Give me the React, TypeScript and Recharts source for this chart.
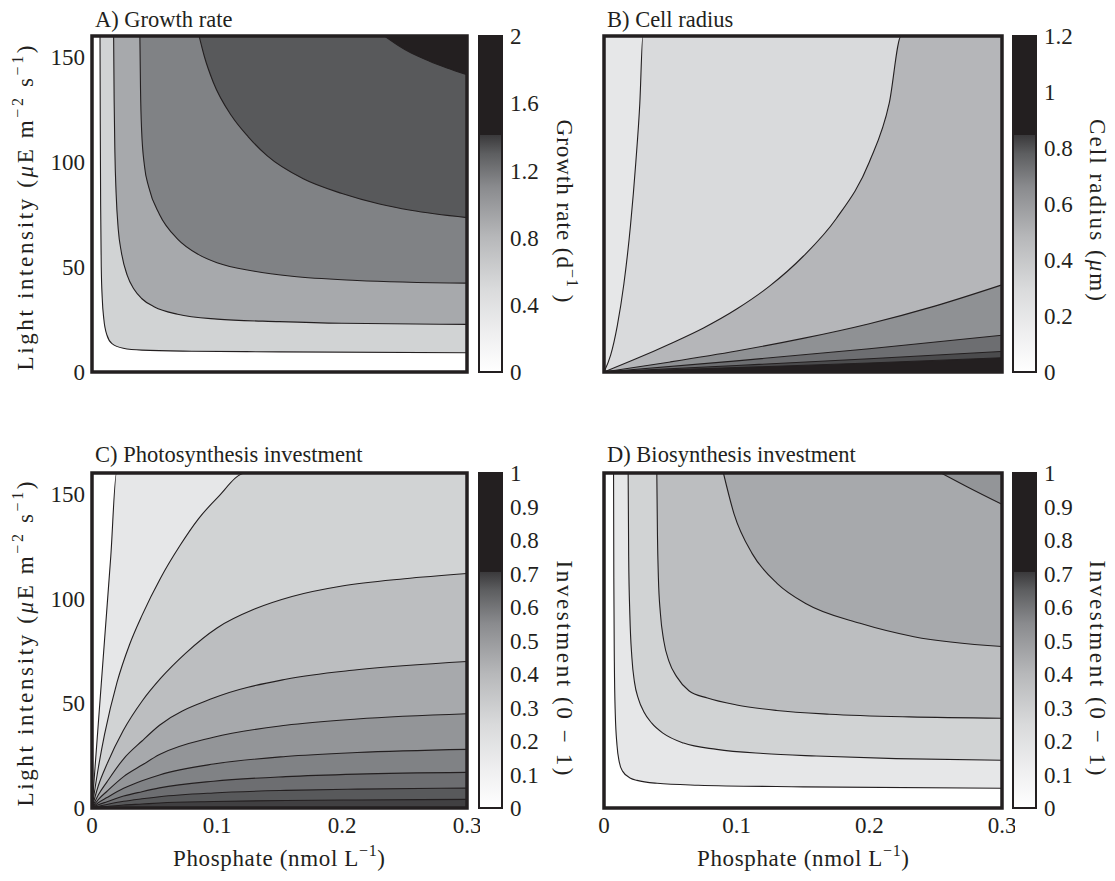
import React from 'react';
import {
  ComposedChart,
  BarChart,
  Area,
  Line,
  Bar,
  XAxis,
  YAxis,
  ReferenceArea,
  CartesianGrid,
} from 'recharts';

const INK = '#231f20';
const FONT = '"Liberation Serif", "Times New Roman", Times, serif';

// ---------- axes ----------
const phosphateDomain = [0, 0.3];
const lightDomain = [0, 160];
const phosphateTicks = [0, 0.1, 0.2, 0.3];
const phosphateMinorTicks = [0.1, 0.2];
const lightTicks = [0, 50, 100, 150];
const lightMinorTicks = [50, 100, 150];

// ---------- A) Growth rate contours (x = phosphate, y = light) ----------
const growthContour1 = [
  { x: 0.0064, y: 160 }, { x: 0.0066, y: 120 }, { x: 0.0069, y: 80 }, { x: 0.0074, y: 50 },
  { x: 0.0082, y: 35 }, { x: 0.0095, y: 25 }, { x: 0.012, y: 17.5 }, { x: 0.016, y: 13.5 },
  { x: 0.025, y: 11.3 }, { x: 0.04, y: 10.4 }, { x: 0.08, y: 9.9 }, { x: 0.15, y: 9.6 }, { x: 0.3, y: 9.2 },
];
const growthContour2 = [
  { x: 0.0173, y: 160 }, { x: 0.0177, y: 130 }, { x: 0.0183, y: 105 }, { x: 0.0193, y: 85 },
  { x: 0.021, y: 68 }, { x: 0.0235, y: 57 }, { x: 0.0282, y: 46 }, { x: 0.0335, y: 39.5 },
  { x: 0.0397, y: 35 }, { x: 0.05, y: 31 }, { x: 0.0685, y: 27.5 }, { x: 0.1, y: 25.2 },
  { x: 0.15, y: 24 }, { x: 0.2, y: 23.2 }, { x: 0.3, y: 22.7 },
];
const growthContour3 = [
  { x: 0.0383, y: 160 }, { x: 0.0388, y: 135 }, { x: 0.0397, y: 115 }, { x: 0.042, y: 98 },
  { x: 0.0454, y: 88 }, { x: 0.054, y: 75 }, { x: 0.0685, y: 63.3 }, { x: 0.085, y: 56 },
  { x: 0.1, y: 52 }, { x: 0.13, y: 48 }, { x: 0.16, y: 45.6 }, { x: 0.212, y: 43.6 }, { x: 0.3, y: 42.3 },
];
const growthContour4 = [
  { x: 0.0857, y: 160 }, { x: 0.09, y: 150 }, { x: 0.097, y: 138 }, { x: 0.1116, y: 122 },
  { x: 0.125, y: 112 }, { x: 0.14, y: 103 }, { x: 0.169, y: 92 }, { x: 0.2, y: 85 },
  { x: 0.23, y: 80 }, { x: 0.255, y: 77 }, { x: 0.3, y: 73.5 },
];
const growthContour5 = [
  { x: 0.234, y: 160 }, { x: 0.245, y: 155.5 }, { x: 0.255, y: 152 }, { x: 0.27, y: 148 },
  { x: 0.284, y: 144.8 }, { x: 0.3, y: 141.5 },
];

// ---------- B) Cell radius contours ----------
const radiusContour1 = [
  { x: 0, y: 0 }, { x: 0.005, y: 8 }, { x: 0.01, y: 22 }, { x: 0.015, y: 42 }, { x: 0.02, y: 70 },
  { x: 0.024, y: 100 }, { x: 0.027, y: 128 }, { x: 0.0293, y: 160 }, { x: 0.3, y: 160 },
];
const radiusContour2 = [
  { x: 0, y: 0 }, { x: 0.025, y: 6.5 }, { x: 0.05, y: 13.5 }, { x: 0.075, y: 21 }, { x: 0.1, y: 30 },
  { x: 0.125, y: 41 }, { x: 0.15, y: 55 }, { x: 0.175, y: 73 }, { x: 0.2, y: 100 }, { x: 0.215, y: 128 },
  { x: 0.224, y: 160 }, { x: 0.3, y: 160 },
];
const radiusContour3 = [
  { x: 0, y: 0 }, { x: 0.05, y: 4.8 }, { x: 0.1, y: 10 }, { x: 0.15, y: 16 }, { x: 0.2, y: 23 },
  { x: 0.25, y: 31.5 }, { x: 0.3, y: 41.5 },
];
const radiusContour4 = [{ x: 0, y: 0 }, { x: 0.1, y: 5.3 }, { x: 0.2, y: 11.1 }, { x: 0.3, y: 17.5 }];
const radiusContour5 = [{ x: 0, y: 0 }, { x: 0.1, y: 3.1 }, { x: 0.2, y: 6.3 }, { x: 0.3, y: 9.8 }];
const radiusContour6 = [{ x: 0, y: 0 }, { x: 0.1, y: 2.1 }, { x: 0.2, y: 4.3 }, { x: 0.3, y: 6.8 }];

// ---------- C) Photosynthesis investment contours ----------
const photoContour1 = [
  { x: 0, y: 0 }, { x: 0.005, y: 40 }, { x: 0.01, y: 80 }, { x: 0.015, y: 120 }, { x: 0.0196, y: 160 }, { x: 0.3, y: 160 },
];
const photoContour2 = [
  { x: 0, y: 0 }, { x: 0.005, y: 19 }, { x: 0.01, y: 35 }, { x: 0.02, y: 60 }, { x: 0.03, y: 78 },
  { x: 0.04, y: 92 }, { x: 0.055, y: 110 }, { x: 0.07, y: 125 }, { x: 0.085, y: 138 }, { x: 0.1, y: 148 },
  { x: 0.123, y: 160 }, { x: 0.3, y: 160 },
];
const photoContour3 = [
  { x: 0, y: 0 }, { x: 0.005, y: 10.5 }, { x: 0.012, y: 21 }, { x: 0.025, y: 37 }, { x: 0.04, y: 51 },
  { x: 0.055, y: 62 }, { x: 0.075, y: 74 }, { x: 0.1, y: 86 }, { x: 0.13, y: 95 }, { x: 0.16, y: 101 },
  { x: 0.2, y: 106 }, { x: 0.25, y: 109.5 }, { x: 0.3, y: 112 },
];
const photoContour4 = [
  { x: 0, y: 0 }, { x: 0.005, y: 6.2 }, { x: 0.012, y: 12.5 }, { x: 0.0253, y: 23.5 }, { x: 0.04, y: 32 },
  { x: 0.054, y: 39.5 }, { x: 0.0972, y: 52.5 }, { x: 0.155, y: 61.5 }, { x: 0.212, y: 66 }, { x: 0.3, y: 70 },
];
const photoContour5 = [
  { x: 0, y: 0 }, { x: 0.005, y: 4 }, { x: 0.012, y: 8 }, { x: 0.0253, y: 15 }, { x: 0.04, y: 20.5 },
  { x: 0.054, y: 25.5 }, { x: 0.0972, y: 33.8 }, { x: 0.155, y: 39.5 }, { x: 0.212, y: 42.5 }, { x: 0.3, y: 45 },
];
const photoContour6 = [
  { x: 0, y: 0 }, { x: 0.005, y: 2.5 }, { x: 0.012, y: 5 }, { x: 0.0253, y: 9.4 }, { x: 0.04, y: 13 },
  { x: 0.054, y: 15.8 }, { x: 0.0972, y: 21 }, { x: 0.155, y: 24.6 }, { x: 0.212, y: 26.5 }, { x: 0.3, y: 28 },
];
const photoContour7 = [
  { x: 0, y: 0 }, { x: 0.005, y: 1.5 }, { x: 0.012, y: 3 }, { x: 0.0253, y: 5.7 }, { x: 0.04, y: 7.8 },
  { x: 0.054, y: 9.6 }, { x: 0.0972, y: 12.8 }, { x: 0.155, y: 15 }, { x: 0.212, y: 16.2 }, { x: 0.3, y: 17 },
];
const photoContour8 = [
  { x: 0, y: 0 }, { x: 0.005, y: 0.85 }, { x: 0.012, y: 1.7 }, { x: 0.0253, y: 3.2 }, { x: 0.04, y: 4.4 },
  { x: 0.054, y: 5.4 }, { x: 0.0972, y: 7.2 }, { x: 0.155, y: 8.4 }, { x: 0.212, y: 9 }, { x: 0.3, y: 9.5 },
];
const photoContour9 = [
  { x: 0, y: 0 }, { x: 0.005, y: 0.4 }, { x: 0.012, y: 0.75 }, { x: 0.0253, y: 1.4 }, { x: 0.04, y: 1.9 },
  { x: 0.054, y: 2.4 }, { x: 0.0972, y: 3.1 }, { x: 0.155, y: 3.6 }, { x: 0.212, y: 3.85 }, { x: 0.3, y: 4.1 },
];

// ---------- D) Biosynthesis investment contours ----------
const bioContour1 = [
  { x: 0.0072, y: 160 }, { x: 0.0074, y: 110 }, { x: 0.0078, y: 70 }, { x: 0.0085, y: 45 },
  { x: 0.0098, y: 30 }, { x: 0.0115, y: 22 }, { x: 0.0141, y: 17.5 }, { x: 0.02, y: 14.2 },
  { x: 0.0249, y: 13.2 }, { x: 0.04, y: 11.8 }, { x: 0.071, y: 10.9 }, { x: 0.15, y: 10.1 }, { x: 0.3, y: 9.4 },
];
const bioContour2 = [
  { x: 0.0182, y: 160 }, { x: 0.0186, y: 120 }, { x: 0.0195, y: 92 }, { x: 0.021, y: 72 },
  { x: 0.023, y: 60 }, { x: 0.026, y: 52 }, { x: 0.03, y: 46 }, { x: 0.036, y: 40.5 },
  { x: 0.045, y: 35.5 }, { x: 0.06, y: 31 }, { x: 0.085, y: 28 }, { x: 0.12, y: 26 },
  { x: 0.16, y: 24.8 }, { x: 0.22, y: 23.6 }, { x: 0.3, y: 22.8 },
];
const bioContour3 = [
  { x: 0.0398, y: 160 }, { x: 0.0403, y: 130 }, { x: 0.041, y: 110 }, { x: 0.0425, y: 93 },
  { x: 0.045, y: 80 }, { x: 0.049, y: 70 }, { x: 0.055, y: 62.5 }, { x: 0.064, y: 56 },
  { x: 0.078, y: 52.5 }, { x: 0.1, y: 49.2 }, { x: 0.13, y: 46.6 }, { x: 0.17, y: 44.8 },
  { x: 0.23, y: 43.5 }, { x: 0.3, y: 42.9 },
];
const bioContour4 = [
  { x: 0.09, y: 160 }, { x: 0.098, y: 140.5 }, { x: 0.1117, y: 121.5 }, { x: 0.1306, y: 107.2 },
  { x: 0.152, y: 97.7 }, { x: 0.193, y: 88.2 }, { x: 0.2336, y: 81.8 }, { x: 0.3, y: 77.1 },
];
const bioContour5 = [{ x: 0.254, y: 160 }, { x: 0.274, y: 153.3 }, { x: 0.3, y: 145 }];

// ---------- colour bars ----------
const growthScale = [{ name: 'growth', value: 2 }];
const growthScaleTicks = [0, 0.4, 0.8, 1.2, 1.6, 2];
const radiusScale = [{ name: 'radius', value: 1.2 }];
const radiusScaleTicks = [0, 0.2, 0.4, 0.6, 0.8, 1, 1.2];
const investScale = [{ name: 'invest', value: 1 }];
const investScaleTicks = [0, 0.1, 0.2, 0.3, 0.4, 0.5, 0.6, 0.7, 0.8, 0.9, 1];

// ---------- styles ----------
const fillsA = ['#d1d3d4', '#a7a9ac', '#808285', '#58595b', '#231f20'];
const fillsB = ['#d9dadc', '#b5b6b9', '#8f9194', '#6d6e71', '#4b4b4d', '#231f20'];
const fillsC = ['#e6e7e8', '#d1d3d4', '#bcbec0', '#a7a9ac', '#939598', '#808285', '#6d6e71', '#58595b', '#414042'];
const fillsD = ['#e6e7e8', '#d1d3d4', '#bcbec0', '#a7a9ac', '#939598'];
const colormapStops = [
  { offset: 0, color: '#ffffff' },
  { offset: 0.12, color: '#eeeeef' },
  { offset: 0.25, color: '#d9dadb' },
  { offset: 0.4, color: '#b7b8ba' },
  { offset: 0.55, color: '#8a8b8e' },
  { offset: 0.65, color: '#5d5e60' },
  { offset: 0.705, color: '#3a393b' },
  { offset: 0.706, color: INK },
  { offset: 1, color: INK },
];

type Pt = { x: number; y: number };
type Box = { left: number; top: number; width: number; height: number };
type Plot = { left: number; top: number; right: number; bottom: number };

const tickText = { fontFamily: FONT, fontSize: 23, fill: INK };
const tickMark = { stroke: INK, strokeWidth: 2.5 };

function marginFor(box: Box, plot: Plot, leftAxis: number, bottomAxis: number, rightAxis: number) {
  return {
    left: plot.left - box.left - leftAxis,
    top: plot.top - box.top,
    right: box.left + box.width - plot.right - rightAxis,
    bottom: box.top + box.height - plot.bottom - bottomAxis,
  };
}

function ContourPanel(props: {
  box: Box;
  plot: Plot;
  contours: Pt[][];
  fills: string[];
  mode: 'above' | 'below';
  background?: string;
  xLabels: boolean;
  yLabels: boolean;
}) {
  const { box, plot, contours, fills, mode, background, xLabels, yLabels } = props;
  const yW = yLabels ? 60 : 0;
  const xH = xLabels ? 40 : 0;
  const margin = marginFor(box, plot, yW, xH, 0);
  const lo = lightDomain[0];
  const hi = lightDomain[1];
  const range = mode === 'above' ? (d: Pt) => [d.y, hi] : (d: Pt) => [lo, d.y];
  return (
    <div style={{ position: 'absolute', left: box.left, top: box.top }}>
      <ComposedChart width={box.width} height={box.height} margin={margin}>
        <XAxis
          xAxisId="x"
          dataKey="x"
          type="number"
          domain={phosphateDomain}
          ticks={phosphateTicks}
          interval={0}
          hide={!xLabels}
          height={xH || 30}
          tickLine={false}
          axisLine={false}
          tick={tickText}
          tickSize={6}
          tickMargin={3}
        />
        <YAxis
          yAxisId="y"
          type="number"
          domain={lightDomain}
          ticks={lightTicks}
          interval={0}
          hide={!yLabels}
          width={yW || 60}
          tickLine={false}
          axisLine={false}
          tick={tickText}
          tickSize={5}
          tickMargin={2}
        />
        {background ? (
          <CartesianGrid
            xAxisId="x"
            yAxisId="y"
            horizontal={false}
            vertical={false}
            fill={background}
            fillOpacity={1}
          />
        ) : null}
        {contours.map((c, i) => (
          <Area
            key={`a${i}`}
            xAxisId="x"
            yAxisId="y"
            data={c}
            dataKey={range}
            type="monotone"
            fill={fills[i]}
            fillOpacity={1}
            stroke="none"
            dot={false}
            activeDot={false}
            isAnimationActive={false}
          />
        ))}
        {contours.map((c, i) => (
          <Line
            key={`l${i}`}
            xAxisId="x"
            yAxisId="y"
            data={c}
            dataKey="y"
            type="monotone"
            stroke={INK}
            strokeWidth={1.1}
            dot={false}
            activeDot={false}
            isAnimationActive={false}
          />
        ))}
        <ReferenceArea
          xAxisId="x"
          yAxisId="y"
          x1={phosphateDomain[0]}
          x2={phosphateDomain[1]}
          y1={lightDomain[0]}
          y2={lightDomain[1]}
          fill="none"
          fillOpacity={0}
          stroke={INK}
          strokeWidth={3.5}
          ifOverflow="visible"
          zIndex={2000}
        />
        <XAxis xAxisId="xb" type="number" domain={phosphateDomain} ticks={phosphateMinorTicks} orientation="bottom" mirror height={1} tick={false} axisLine={false} tickLine={tickMark} tickSize={5} />
        <XAxis xAxisId="xt" type="number" domain={phosphateDomain} ticks={phosphateMinorTicks} orientation="top" mirror height={1} tick={false} axisLine={false} tickLine={tickMark} tickSize={5} />
        <YAxis yAxisId="yl" type="number" domain={lightDomain} ticks={lightMinorTicks} orientation="left" mirror width={1} tick={false} axisLine={false} tickLine={tickMark} tickSize={5} />
        <YAxis yAxisId="yr" type="number" domain={lightDomain} ticks={lightMinorTicks} orientation="right" mirror width={1} tick={false} axisLine={false} tickLine={tickMark} tickSize={5} />
      </ComposedChart>
    </div>
  );
}

function Colorbar(props: { box: Box; plot: Plot; data: { name: string; value: number }[]; ticks: number[]; id: string }) {
  const { box, plot, data, ticks, id } = props;
  const margin = marginFor(box, plot, 0, 0, 50);
  const max = data[0].value;
  return (
    <div style={{ position: 'absolute', left: box.left, top: box.top }}>
      <BarChart width={box.width} height={box.height} margin={margin} data={data} barCategoryGap={0}>
        <defs>
          <linearGradient id={`cmap-${id}`} x1="0" y1="1" x2="0" y2="0">
            {colormapStops.map((s) => (
              <stop key={s.offset} offset={s.offset} stopColor={s.color} />
            ))}
          </linearGradient>
        </defs>
        <XAxis xAxisId="x" dataKey="name" hide />
        <YAxis
          yAxisId="y"
          orientation="right"
          type="number"
          domain={[0, max]}
          ticks={ticks}
          interval={0}
          width={50}
          tickLine={false}
          axisLine={false}
          tick={tickText}
          tickSize={6}
          tickMargin={2}
        />
        <Bar
          xAxisId="x"
          yAxisId="y"
          dataKey="value"
          fill={`url(#cmap-${id})`}
          stroke={INK}
          strokeWidth={2}
          isAnimationActive={false}
        />
        <YAxis yAxisId="cl" orientation="left" type="number" domain={[0, max]} ticks={ticks} mirror width={1} tick={false} axisLine={false} tickLine={{ stroke: INK, strokeWidth: 1.2 }} tickSize={4} />
        <YAxis yAxisId="cr" orientation="right" type="number" domain={[0, max]} ticks={ticks} mirror width={1} tick={false} axisLine={false} tickLine={{ stroke: INK, strokeWidth: 1.2 }} tickSize={4} />
      </BarChart>
    </div>
  );
}

function Sup({ children }: { children: React.ReactNode }) {
  return (
    <tspan fontSize={16} dy={-10}>
      {children}
    </tspan>
  );
}

function Labels() {
  const common = { fontFamily: FONT, fill: INK };
  return (
    <svg
      width={1115}
      height={881}
      style={{ position: 'absolute', left: 0, top: 0, pointerEvents: 'none' }}
    >
      <text x={95} y={27} fontSize={22.5} {...common}>A) Growth rate</text>
      <text x={607} y={27} fontSize={22.5} {...common}>B) Cell radius</text>
      <text x={95} y={462} fontSize={22.5} {...common}>C) Photosynthesis investment</text>
      <text x={607} y={462} fontSize={22.5} {...common}>D) Biosynthesis investment</text>

      {[208, 644].map((cy) => (
        <text
          key={cy}
          transform={`translate(33,${cy}) rotate(-90)`}
          textAnchor="middle"
          fontSize={23}
          textLength={325}
          lengthAdjust="spacing"
          {...common}
        >
          {'Light intensity ('}
          <tspan fontStyle="italic">μ</tspan>
          {'E m'}
          <Sup>−2</Sup>
          <tspan dy={10}>{' s'}</tspan>
          <Sup>−1</Sup>
          <tspan dy={10}>)</tspan>
        </text>
      ))}

      <text transform="translate(557,211) rotate(90)" textAnchor="middle" fontSize={23} textLength={183} lengthAdjust="spacing" {...common}>
        {'Growth rate (d'}
        <Sup>−1</Sup>
        <tspan dy={10}>{' )'}</tspan>
      </text>
      <text transform="translate(1090,210) rotate(90)" textAnchor="middle" fontSize={23} textLength={182} lengthAdjust="spacing" {...common}>
        {'Cell radius ('}
        <tspan fontStyle="italic">μ</tspan>
        {'m)'}
      </text>
      <text transform="translate(557,668) rotate(90)" textAnchor="middle" fontSize={23} textLength={215} lengthAdjust="spacing" {...common}>
        Investment (0 − 1)
      </text>
      <text transform="translate(1090,668) rotate(90)" textAnchor="middle" fontSize={23} textLength={215} lengthAdjust="spacing" {...common}>
        Investment (0 − 1)
      </text>

      {[279, 803].map((cx) => (
        <text key={cx} x={cx} y={866} textAnchor="middle" fontSize={23} textLength={212} lengthAdjust="spacing" {...common}>
          {'Phosphate (nmol L'}
          <Sup>−1</Sup>
          <tspan dy={10}>)</tspan>
        </text>
      ))}
    </svg>
  );
}

export default function App() {
  const boxA = { left: 20, top: 0, width: 460, height: 420 };
  const boxB = { left: 570, top: 0, width: 445, height: 420 };
  const boxC = { left: 20, top: 440, width: 460, height: 441 };
  const boxD = { left: 570, top: 440, width: 445, height: 441 };
  const plotA = { left: 92, top: 36, right: 467, bottom: 372 };
  const plotB = { left: 604, top: 36, right: 1002, bottom: 372 };
  const plotC = { left: 92, top: 473, right: 467, bottom: 808 };
  const plotD = { left: 604, top: 473, right: 1002, bottom: 808 };
  return (
    <div
      style={{
        position: 'absolute',
        left: 0,
        top: 0,
        width: 1115,
        height: 881,
        background: '#ffffff',
        overflow: 'hidden',
      }}
    >
      <ContourPanel
        box={boxA}
        plot={plotA}
        contours={[growthContour1, growthContour2, growthContour3, growthContour4, growthContour5]}
        fills={fillsA}
        mode="above"
        xLabels={false}
        yLabels={true}
      />
      <ContourPanel
        box={boxB}
        plot={plotB}
        contours={[radiusContour1, radiusContour2, radiusContour3, radiusContour4, radiusContour5, radiusContour6]}
        fills={fillsB}
        mode="below"
        background="#e6e7e8"
        xLabels={false}
        yLabels={false}
      />
      <ContourPanel
        box={boxC}
        plot={plotC}
        contours={[
          photoContour1, photoContour2, photoContour3, photoContour4, photoContour5,
          photoContour6, photoContour7, photoContour8, photoContour9,
        ]}
        fills={fillsC}
        mode="below"
        xLabels={true}
        yLabels={true}
      />
      <ContourPanel
        box={boxD}
        plot={plotD}
        contours={[bioContour1, bioContour2, bioContour3, bioContour4, bioContour5]}
        fills={fillsD}
        mode="above"
        xLabels={true}
        yLabels={false}
      />
      <Colorbar box={{ left: 470, top: 0, width: 100, height: 420 }} plot={{ left: 479, top: 36, right: 502, bottom: 372 }} data={growthScale} ticks={growthScaleTicks} id="a" />
      <Colorbar box={{ left: 1004, top: 0, width: 100, height: 420 }} plot={{ left: 1013, top: 36, right: 1036, bottom: 372 }} data={radiusScale} ticks={radiusScaleTicks} id="b" />
      <Colorbar box={{ left: 470, top: 440, width: 100, height: 441 }} plot={{ left: 479, top: 473, right: 502, bottom: 808 }} data={investScale} ticks={investScaleTicks} id="c" />
      <Colorbar box={{ left: 1004, top: 440, width: 100, height: 441 }} plot={{ left: 1013, top: 473, right: 1036, bottom: 808 }} data={investScale} ticks={investScaleTicks} id="d" />
      <Labels />
    </div>
  );
}
